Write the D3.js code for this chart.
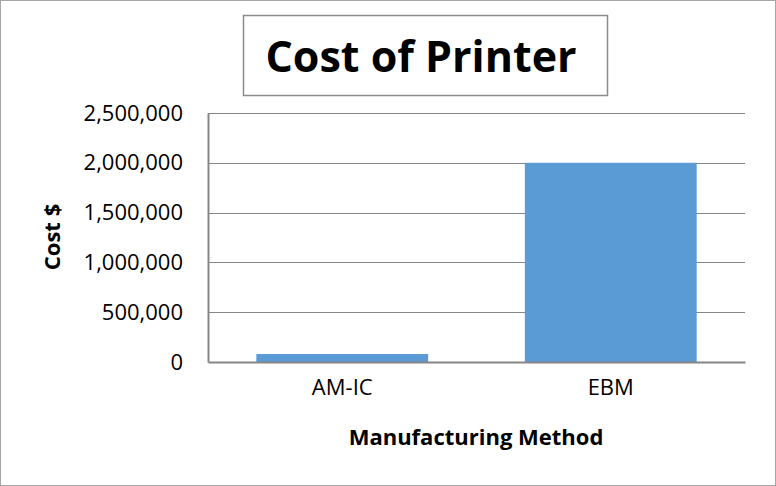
<!DOCTYPE html>
<html>
<head>
<meta charset="utf-8">
<script src="https://cdn.jsdelivr.net/npm/d3@7"></script>
<style>
  html, body { margin: 0; padding: 0; background: #fff; }
  svg { display: block; }
  text { font-family: "Open Sans", sans-serif; fill: #000; }
</style>
</head>
<body>
<svg id="chart" width="776" height="486"></svg>
<script>
// Chart data
const categories = ["AM-IC", "EBM"];
const costs = [80000, 2000000];
const yTicks = [0, 500000, 1000000, 1500000, 2000000, 2500000];
const titleText = "Cost of Printer";
const xTitle = "Manufacturing Method";
const yTitle = "Cost $";

const FONT = "'Open Sans', sans-serif";
const svg = d3.select("#chart");
const W = 776, H = 486;
const plot = { left: 208, right: 745, top: 113, bottom: 362 };

// outer frame
svg.append("rect")
  .attr("x", 0.5).attr("y", 0.5)
  .attr("width", W - 1).attr("height", H - 1)
  .attr("fill", "#fff").attr("stroke", "#a6a6a6").attr("stroke-width", 1);

const x = d3.scaleBand()
  .domain(categories)
  .range([plot.left, plot.right])
  .paddingInner(0.36).paddingOuter(0.18);

const y = d3.scaleLinear()
  .domain([0, 2500000])
  .range([plot.bottom, plot.top]);

// gridlines
svg.append("g")
  .selectAll("line")
  .data(yTicks.filter(d => d > 0))
  .join("line")
  .attr("x1", plot.left).attr("x2", plot.right)
  .attr("y1", d => Math.round(y(d)) + 0.5).attr("y2", d => Math.round(y(d)) + 0.5)
  .attr("stroke", "#868686").attr("stroke-width", 1);

// bars
svg.append("g")
  .selectAll("rect")
  .data(categories.map((c, i) => ({ c, v: costs[i] })))
  .join("rect")
  .attr("x", d => x(d.c))
  .attr("width", x.bandwidth())
  .attr("y", d => y(d.v))
  .attr("height", d => y(0) - y(d.v))
  .attr("fill", "#5b9bd5");

// y axis
const yAxis = d3.axisLeft(y)
  .tickValues(yTicks)
  .tickFormat(d3.format(","))
  .tickSize(0)
  .tickPadding(25);
const gy = svg.append("g")
  .attr("transform", `translate(${plot.left},0)`)
  .call(yAxis);
gy.select(".domain").attr("stroke", "#868686").attr("stroke-width", 2);
gy.selectAll("text").attr("font-size", 22).attr("font-family", FONT).attr("fill", "#000");

// x axis
const xAxis = d3.axisBottom(x).tickSize(0).tickPadding(17);
const gx = svg.append("g")
  .attr("transform", `translate(0,${plot.bottom})`)
  .call(xAxis);
gx.select(".domain").attr("stroke", "#868686").attr("stroke-width", 2);
gx.selectAll("text").attr("font-size", 22).attr("font-family", FONT).attr("fill", "#000");

// axis titles
svg.append("text")
  .attr("x", 476).attr("y", 445)
  .attr("text-anchor", "middle")
  .attr("font-size", 22).attr("font-weight", "bold")
  .text(xTitle);

svg.append("text")
  .attr("transform", `translate(60,237) rotate(-90)`)
  .attr("text-anchor", "middle")
  .attr("font-size", 22).attr("font-weight", "bold")
  .text(yTitle);

// title box
svg.append("rect")
  .attr("x", 243.5).attr("y", 15.5)
  .attr("width", 364).attr("height", 80)
  .attr("fill", "#fff").attr("stroke", "#8c8c8c").attr("stroke-width", 1.5);
svg.append("text")
  .attr("x", 421).attr("y", 72)
  .attr("text-anchor", "middle")
  .attr("font-size", 43).attr("font-weight", "bold")
  .text(titleText);
</script>
</body>
</html>
